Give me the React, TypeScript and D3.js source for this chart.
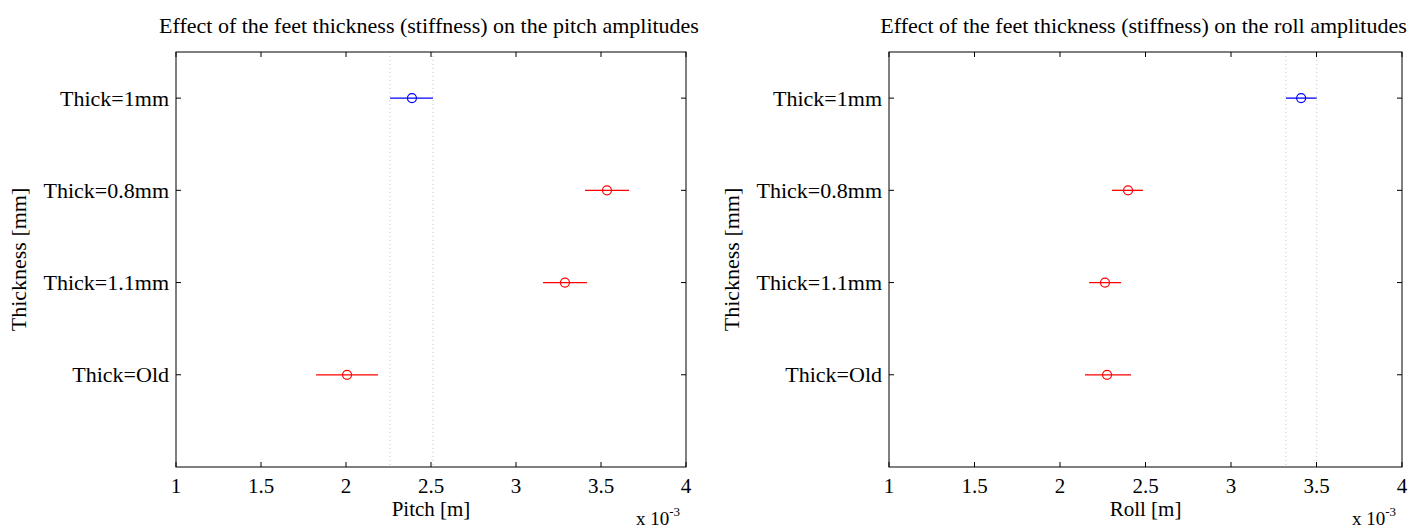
import React from "react";
import { scaleLinear } from "d3";

const groups = ["Thick=1mm", "Thick=0.8mm", "Thick=1.1mm", "Thick=Old"];
const groupPos = [4, 3, 2, 1];
const groupColor = ["#0000ff", "#ff0000", "#ff0000", "#ff0000"];

// pitch amplitudes (x 10^-3 m): mean, lower, upper
const pitchMean = [2.388, 3.535, 3.288, 2.006];
const pitchLow = [2.259, 3.406, 3.159, 1.824];
const pitchHigh = [2.512, 3.665, 3.418, 2.188];

// roll amplitudes (x 10^-3 m)
const rollMean = [3.41, 2.398, 2.263, 2.275];
const rollLow = [3.321, 2.304, 2.17, 2.146];
const rollHigh = [3.501, 2.485, 2.357, 2.415];

const xTicks = [1, 1.5, 2, 2.5, 3, 3.5, 4];

const W = 1426;
const H = 529;
const FONT = "'Liberation Serif', 'DejaVu Serif', serif";
const FS = 22;

type PanelProps = {
  left: number;
  right: number;
  title: string;
  xlabel: string;
  mean: number[];
  low: number[];
  high: number[];
};

const top = 52;
const bottom = 467;

const Panel = (props: PanelProps) => {
  const { left, right, mean, low, high } = props;
  const x = scaleLinear().domain([1, 4]).range([left, right]);
  const y = scaleLinear().domain([0, 4.5]).range([bottom, top]);
  const tk = 5;
  const cx = (left + right) / 2;

  return (
    <g fontFamily={FONT} fill="#000">
      <text x={cx - 2} y={33} textAnchor="middle" fontSize={FS}>
        {props.title}
      </text>

      {/* dotted comparison interval of the selected group */}
      {[low[0], high[0]].map((v, i) => (
        <line
          key={"d" + i}
          x1={x(v)}
          x2={x(v)}
          y1={top}
          y2={bottom}
          stroke="#c8c8c8"
          strokeWidth={1}
          strokeDasharray="1,3"
        />
      ))}

      {groups.map((g, i) => (
        <g key={g}>
          <line
            x1={x(low[i])}
            x2={x(high[i])}
            y1={y(groupPos[i])}
            y2={y(groupPos[i])}
            stroke={groupColor[i]}
            strokeWidth={1.3}
          />
          <circle
            cx={x(mean[i])}
            cy={y(groupPos[i])}
            r={4.5}
            fill="none"
            stroke={groupColor[i]}
            strokeWidth={1.2}
          />
        </g>
      ))}

      <rect
        x={left}
        y={top}
        width={right - left}
        height={bottom - top}
        fill="none"
        stroke="#000"
        strokeWidth={1}
      />

      {xTicks.map((t) => (
        <g key={"x" + t}>
          <line x1={x(t)} x2={x(t)} y1={bottom} y2={bottom - tk} stroke="#000" />
          <line x1={x(t)} x2={x(t)} y1={top} y2={top + tk} stroke="#000" />
          <text x={x(t)} y={493} textAnchor="middle" fontSize={21}>
            {t}
          </text>
        </g>
      ))}

      {groups.map((g, i) => (
        <g key={"y" + g}>
          <line x1={left} x2={left + tk} y1={y(groupPos[i])} y2={y(groupPos[i])} stroke="#000" />
          <line x1={right} x2={right - tk} y1={y(groupPos[i])} y2={y(groupPos[i])} stroke="#000" />
          <text
            x={left - 7}
            y={y(groupPos[i])}
            dy="0.35em"
            textAnchor="end"
            fontSize={FS}
          >
            {g}
          </text>
        </g>
      ))}

      <text x={cx} y={516} textAnchor="middle" fontSize={21}>
        {props.xlabel}
      </text>
      <text x={right - 50} y={525} fontSize={19}>
        x 10
        <tspan dy={-9} fontSize={13}>
          -3
        </tspan>
      </text>
      <text
        transform={`translate(${left - 150},${(top + bottom) / 2}) rotate(-90)`}
        textAnchor="middle"
        fontSize={FS}
      >
        Thickness [mm]
      </text>
    </g>
  );
};

export default function App() {
  return (
    <div style={{ position: "absolute", left: 0, top: 0 }}>
      <svg width={W} height={H} style={{ display: "block", background: "#fff" }}>
        <Panel
          left={176}
          right={686}
          title="Effect of the feet thickness (stiffness) on the pitch amplitudes"
          xlabel="Pitch [m]"
          mean={pitchMean}
          low={pitchLow}
          high={pitchHigh}
        />
        <Panel
          left={889}
          right={1402}
          title="Effect of the feet thickness (stiffness) on the roll amplitudes"
          xlabel="Roll [m]"
          mean={rollMean}
          low={rollLow}
          high={rollHigh}
        />
      </svg>
    </div>
  );
}
